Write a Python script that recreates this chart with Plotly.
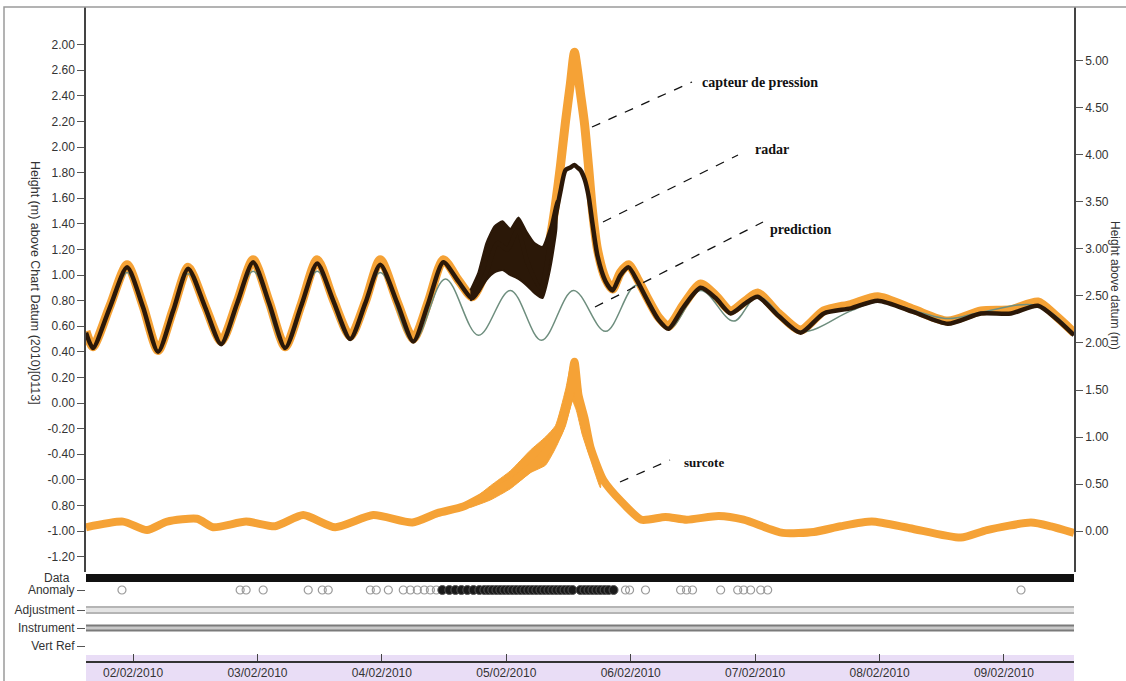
import numpy as np
import pandas as pd
import plotly.graph_objects as go

BASE = pd.Timestamp("2010-02-02 00:00")


def to_time(days):
    return BASE + pd.to_timedelta(np.asarray(days, dtype=float), unit="D")


# ---------------- data (days since 02/02/2010 00:00) ----------------
obs_days = [-0.378, -0.322, -0.185, -0.048, 0.080, 0.201, 0.322, 0.443, 0.579, 0.708,
            0.837, 0.965, 1.094, 1.223, 1.352, 1.480, 1.609, 1.746, 1.867, 1.987,
            2.124, 2.253, 2.373, 2.494, 2.615, 2.727, 2.832, 2.929, 3.009, 3.090,
            3.170, 3.275, 3.355, 3.395, 3.435, 3.476, 3.516, 3.548, 3.572, 3.596,
            3.629, 3.661, 3.693, 3.733, 3.798, 3.854, 3.918, 3.983, 4.055, 4.135,
            4.224, 4.304, 4.425, 4.562, 4.683, 4.803, 4.924, 5.020, 5.189, 5.366,
            5.552, 5.769, 5.986, 6.276, 6.549, 6.815, 7.056, 7.273, 7.418, 7.563]
radar = [0.55, 0.43, 0.75, 1.06, 0.75, 0.40, 0.72, 1.05, 0.75, 0.46,
         0.78, 1.10, 0.78, 0.43, 0.76, 1.09, 0.80, 0.50, 0.78, 1.08,
         0.78, 0.48, 0.78, 1.10, 0.95, 0.82, 1.00, 1.25, 1.20, 1.35,
         1.10, 0.90, 1.25, 1.45, 1.65, 1.82, 1.84, 1.86, 1.84, 1.82,
         1.75, 1.62, 1.40, 1.15, 0.95, 0.88, 1.00, 1.06, 0.95, 0.80,
         0.65, 0.58, 0.75, 0.90, 0.82, 0.70, 0.78, 0.83, 0.68, 0.55,
         0.70, 0.74, 0.80, 0.71, 0.62, 0.70, 0.70, 0.76, 0.66, 0.53]
pression = [0.56, 0.44, 0.76, 1.08, 0.76, 0.41, 0.73, 1.06, 0.76, 0.48,
            0.79, 1.12, 0.79, 0.44, 0.77, 1.12, 0.81, 0.52, 0.79, 1.12,
            0.79, 0.50, 0.79, 1.12, 0.96, 0.83, 1.02, 1.27, 1.22, 1.37,
            1.12, 0.92, 1.30, 1.55, 1.85, 2.20, 2.50, 2.74, 2.60, 2.42,
            2.18, 1.85, 1.50, 1.20, 0.97, 0.89, 1.02, 1.08, 0.97, 0.82,
            0.67, 0.60, 0.77, 0.93, 0.84, 0.72, 0.80, 0.86, 0.70, 0.57,
            0.72, 0.77, 0.83, 0.73, 0.64, 0.72, 0.73, 0.79, 0.68, 0.55]

# noisy radar band during the storm build-up
storm_days = [2.711, 2.776, 2.840, 2.905, 2.969, 3.033, 3.098, 3.162, 3.226, 3.291, 3.355, 3.403]
storm_hi = [0.88, 1.02, 1.25, 1.38, 1.42, 1.36, 1.45, 1.34, 1.25, 1.22, 1.38, 1.58]
storm_lo = [0.80, 0.86, 0.96, 1.02, 1.04, 1.00, 0.97, 0.92, 0.86, 0.82, 1.06, 1.36]

pred_days = [-0.378, -0.322, -0.185, -0.048, 0.080, 0.201, 0.443, 0.708, 0.965, 1.223,
             1.480, 1.746, 1.987, 2.253, 2.510, 2.776, 3.033, 3.283, 3.540, 3.798,
             4.047, 4.304, 4.562, 4.827, 5.020, 5.366, 5.769, 5.986, 6.549, 6.815,
             7.273, 7.563]
prediction = [0.55, 0.44, 0.73, 1.02, 0.73, 0.41, 1.01, 0.47, 1.03, 0.44,
              1.03, 0.50, 1.02, 0.48, 0.97, 0.53, 0.88, 0.49, 0.88, 0.56,
              0.92, 0.58, 0.88, 0.64, 0.83, 0.56, 0.72, 0.79, 0.66, 0.71,
              0.76, 0.54]

surcote_days = [-0.378, -0.080, 0.113, 0.274, 0.515, 0.644, 0.909, 1.142, 1.368, 1.625,
                1.931, 2.245, 2.446, 2.655, 2.856, 3.065, 3.267, 3.419, 3.500, 3.548,
                3.580, 3.629, 3.677, 3.781, 3.934, 4.087, 4.280, 4.449, 4.707, 4.908,
                5.222, 5.471, 5.688, 5.938, 6.243, 6.654, 6.863, 7.217, 7.378, 7.563]
surcote = [0.04, 0.10, 0.01, 0.10, 0.13, 0.04, 0.10, 0.05, 0.17, 0.04,
           0.17, 0.09, 0.19, 0.26, 0.40, 0.54, 0.76, 1.04, 1.39, 1.80,
           1.45, 1.20, 0.89, 0.54, 0.30, 0.12, 0.15, 0.12, 0.16, 0.12,
           -0.02, -0.01, 0.05, 0.10, 0.03, -0.07, 0.01, 0.09, 0.05, -0.02]

surge_env_days = [2.711, 2.872, 3.033, 3.194, 3.315, 3.395, 3.476, 3.532, 3.564, 3.612, 3.677, 3.757]
surge_hi = [0.31, 0.48, 0.64, 0.86, 1.00, 1.12, 1.50, 1.82, 1.78, 1.38, 0.98, 0.66]
surge_lo = [0.25, 0.33, 0.45, 0.62, 0.70, 0.88, 1.12, 1.38, 1.28, 1.02, 0.76, 0.46]

anomaly_light_days = [-0.089, 0.861, 0.909, 1.046, 1.408, 1.521, 1.569, 1.907, 1.955, 2.052,
                      2.172, 2.229, 2.285, 2.341, 2.390, 2.438, 3.958, 3.991, 4.119, 4.401,
                      4.449, 4.497, 4.723, 4.860, 4.908, 4.964, 5.045, 5.101, 7.137]
anomaly_dark_days = [2.486, 2.542, 2.591, 2.639, 2.687, 2.736, 2.784, 2.824, 2.856, 2.888,
                     2.921, 2.953, 2.985, 3.017, 3.049, 3.081, 3.114, 3.146, 3.178, 3.210,
                     3.242, 3.275, 3.307, 3.339, 3.371, 3.403, 3.435, 3.468, 3.500, 3.532,
                     3.596, 3.629, 3.661, 3.693, 3.725, 3.757, 3.790, 3.822, 3.862]
coverage_days = [-0.378, 7.563]

left_tickvals = [2.8, 2.6, 2.4, 2.2, 2.0, 1.8, 1.6, 1.4, 1.2, 1.0, 0.8, 0.6, 0.4, 0.2, 0.0,
                 -0.2, -0.4, -0.6, -0.8, -1.0, -1.2]
left_ticktext = ["2.00", "2.60", "2.40", "2.20", "2.00", "1.80", "1.60", "1.40", "1.20", "1.00",
                 "0.80", "0.60", "0.40", "0.20", "0.00", "-0.20", "-0.40", "-0.00", "0.80",
                 "-1.00", "-1.20"]
right_tickvals = [0.0, 0.5, 1.0, 1.5, 2.0, 2.5, 3.0, 3.5, 4.0, 4.5, 5.0]
right_ticktext = ["0.00", "0.50", "1.00", "1.50", "2.00", "2.50", "3.00", "3.50", "4.00", "4.50", "5.00"]
row_vals = [62, 42, 24, 6]
row_labels = ["Anomaly", "Adjustment", "Instrument", "Vert Ref"]
row_data, row_adjust, row_instr, row_anom = 74, 42, 24, 62

# ---------------- figure ----------------
W, H = 1126, 681
ORANGE = "#F5A236"
DARK = "#2B1808"
PRED = "#6E8E7E"


def px(x):
    return x / W


def py(y):
    return 1 - y / H


t_obs = to_time(obs_days)
fig = go.Figure()

# surcote (right axis)
fig.add_trace(go.Scatter(
    x=list(to_time(surge_env_days)) + list(to_time(surge_env_days[::-1])),
    y=surge_hi + surge_lo[::-1], fill="toself", fillcolor=ORANGE, mode="lines",
    line=dict(color=ORANGE, width=1, shape="spline", smoothing=0.5),
    yaxis="y2", hoverinfo="skip"))
fig.add_trace(go.Scatter(x=to_time(surcote_days), y=surcote, mode="lines", yaxis="y2",
                         line=dict(color=ORANGE, width=8, shape="spline", smoothing=0.6)))
# pressure sensor
fig.add_trace(go.Scatter(x=t_obs, y=pression, mode="lines",
                         line=dict(color=ORANGE, width=9, shape="spline", smoothing=0.7)))
# prediction
fig.add_trace(go.Scatter(x=to_time(pred_days), y=prediction, mode="lines",
                         line=dict(color=PRED, width=1.5, shape="spline", smoothing=1.0)))
# radar noisy band
fig.add_trace(go.Scatter(
    x=list(to_time(storm_days)) + list(to_time(storm_days[::-1])),
    y=storm_hi + storm_lo[::-1], fill="toself", fillcolor=DARK,
    mode="lines", line=dict(color=DARK, width=2, shape="spline", smoothing=0.5),
    hoverinfo="skip"))
fig.add_trace(go.Scatter(x=t_obs, y=radar, mode="lines",
                         line=dict(color=DARK, width=4.5, shape="spline", smoothing=0.7)))

# lower status rows
t_cov = to_time(coverage_days)
fig.add_trace(go.Scatter(x=t_cov, y=[row_data] * 2, mode="lines", yaxis="y3",
                         line=dict(color="#111111", width=8)))
fig.add_trace(go.Scatter(x=t_cov, y=[row_adjust] * 2, mode="lines", yaxis="y3",
                         line=dict(color="#B5B5B5", width=8)))
fig.add_trace(go.Scatter(x=t_cov, y=[row_adjust] * 2, mode="lines", yaxis="y3",
                         line=dict(color="#E4E4E4", width=4)))
fig.add_trace(go.Scatter(x=t_cov, y=[row_instr] * 2, mode="lines", yaxis="y3",
                         line=dict(color="#7A7A7A", width=7)))
fig.add_trace(go.Scatter(x=t_cov, y=[row_instr] * 2, mode="lines", yaxis="y3",
                         line=dict(color="#C8C8C8", width=3)))
fig.add_trace(go.Scatter(x=to_time(anomaly_light_days), y=[row_anom] * len(anomaly_light_days),
                         mode="markers", yaxis="y3",
                         marker=dict(symbol="circle-open", size=8, color="#9A9A9A",
                                     line=dict(width=1.2))))
fig.add_trace(go.Scatter(x=to_time(anomaly_dark_days), y=[row_anom] * len(anomaly_dark_days),
                         mode="markers", yaxis="y3",
                         marker=dict(symbol="circle", size=9, color="#1A1A1A",
                                     line=dict(color="#555555", width=1))))

tick_font = dict(family="Liberation Sans, Arial, sans-serif", size=12, color="#333333")
xr = [to_time([-0.378])[0], to_time([7.563])[0]]

shapes = [
    # lavender date band
    dict(type="rect", xref="paper", yref="paper", x0=px(86), x1=px(1074), y0=0, y1=py(655),
         fillcolor="#E9DDF6", line=dict(width=0), layer="below"),
    # outer frame
    dict(type="rect", xref="paper", yref="paper", x0=px(4), x1=1.02, y0=-0.02, y1=py(7),
         line=dict(color="#9A9A9A", width=1.5), fillcolor="rgba(0,0,0,0)"),
]
leaders = [((592, 127), (692, 82)), ((603, 222), (738, 155)),
           ((595, 307), (763, 222)), ((620, 482), (670, 460))]
for (x0, y0), (x1, y1) in leaders:
    shapes.append(dict(type="line", xref="paper", yref="paper", x0=px(x0), y0=py(y0),
                       x1=px(x1), y1=py(y1), line=dict(color="#111111", width=1.3, dash="dash")))

serif = dict(family="Liberation Serif, DejaVu Serif, serif", size=14, color="#111111")
annotations = [
    dict(text="<b>capteur de pression</b>", x=px(700), y=py(82), xanchor="left", font=serif),
    dict(text="<b>radar</b>", x=px(753), y=py(150), xanchor="left", font=serif),
    dict(text="<b>prediction</b>", x=px(768), y=py(230), xanchor="left", font=serif),
    dict(text="<b>surcote</b>", x=px(682), y=py(463), xanchor="left", font=dict(serif, size=13)),
    dict(text="Height (m) above Chart Datum (2010)[0113]", x=px(35), y=py(283), textangle=90,
         font=dict(tick_font, size=12.5)),
    dict(text="Height above datum (m)", x=px(1115), y=py(285), textangle=90,
         font=dict(tick_font, size=12)),
    dict(text="Data", x=px(72), y=py(578), xanchor="right", font=tick_font),
]
for a in annotations:
    a.update(xref="paper", yref="paper", showarrow=False, yanchor="middle")
    a.setdefault("xanchor", "center")

fig.update_layout(
    width=W, height=H, margin=dict(l=0, r=0, t=0, b=0),
    paper_bgcolor="white", plot_bgcolor="white", showlegend=False, hovermode=False,
    shapes=shapes, annotations=annotations,
    xaxis=dict(type="date", domain=[px(86), px(1074)], range=xr, anchor="free",
               position=py(662), showline=True, linecolor="#333333", linewidth=1.5,
               ticks="inside", ticklen=7, tickcolor="#444444", tickformat="%d/%m/%Y",
               dtick=86400000, tick0="2010-02-02", showgrid=False, zeroline=False,
               tickfont=tick_font),
    yaxis=dict(domain=[py(572), py(7)], range=[-1.320, 3.094], anchor="x",
               showline=True, linecolor="#444444", linewidth=1.5, ticks="outside",
               ticklen=7, tickcolor="#555555", tickvals=left_tickvals, ticktext=left_ticktext,
               showgrid=False, zeroline=False, tickfont=tick_font),
    yaxis2=dict(overlaying="y", side="right", range=[-0.436, 5.574], anchor="x",
                showline=True, linecolor="#444444", linewidth=1.5, ticks="outside",
                ticklen=7, tickcolor="#555555", tickvals=right_tickvals,
                ticktext=right_ticktext, showgrid=False, zeroline=False, tickfont=tick_font),
    yaxis3=dict(domain=[py(652), py(572)], range=[0, 80], anchor="x",
                showline=False, ticks="outside", ticklen=8, tickcolor="#555555",
                tickvals=row_vals, ticktext=row_labels, showgrid=False, zeroline=False,
                tickfont=tick_font),
)

fig.write_html("out.html")
